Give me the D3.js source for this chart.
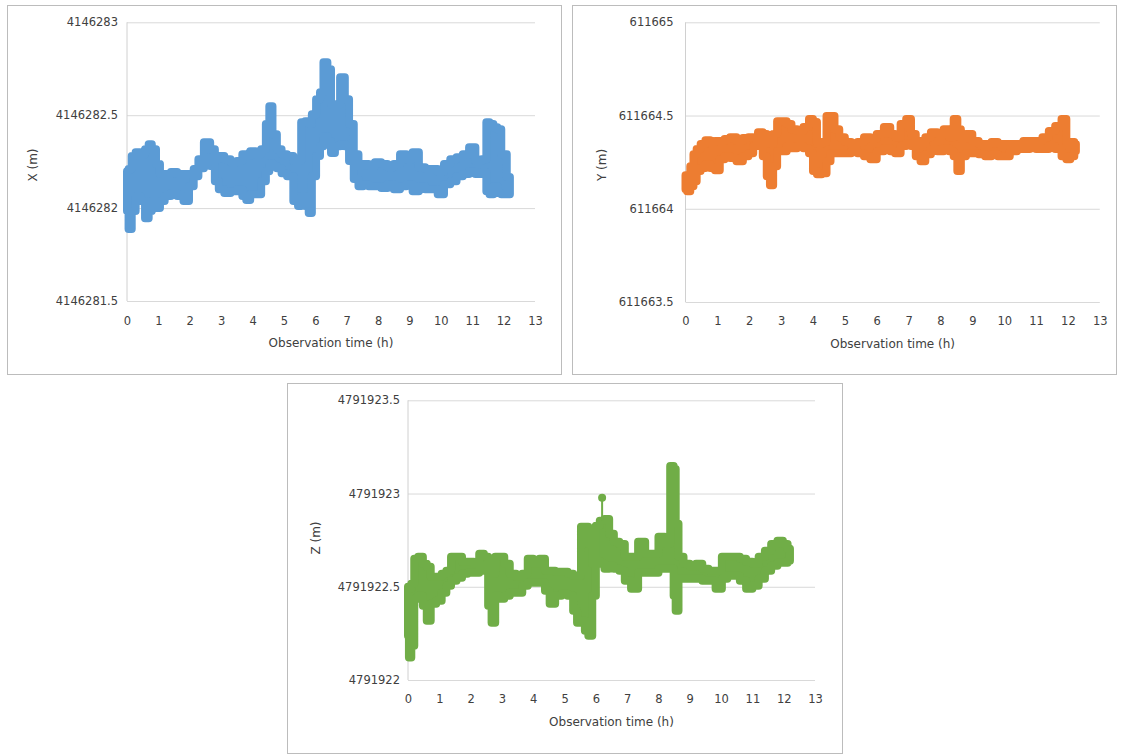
<!DOCTYPE html>
<html>
<head>
<meta charset="utf-8">
<script src="https://cdn.jsdelivr.net/npm/d3@7"></script>
<style>
  body { margin: 0; background: #ffffff; }
  svg { display: block; }
</style>
</head>
<body>
<svg id="fig" width="1124" height="755"></svg>
<script>
// Shared time axis (hours)
const hourTicks = [0, 1, 2, 3, 4, 5, 6, 7, 8, 9, 10, 11, 12, 13];

// ---- X coordinate (m): per-epoch spread, lower and upper readings ----
const xAxisTicks = [4146281.5, 4146282, 4146282.5, 4146283];
const xTimes = [0,0.1,0.2,0.35,0.5,0.65,0.73,0.85,1.0,1.1,
  1.3,1.5,1.7,1.9,2.05,2.2,2.35,2.55,2.75,2.85,
  3.0,3.2,3.4,3.6,3.75,3.85,4.0,4.2,4.35,4.5,
  4.57,4.7,4.85,5.0,5.2,5.4,5.5,5.6,5.75,5.83,
  5.95,6.1,6.2,6.32,6.45,6.55,6.7,6.88,7.0,7.15,
  7.3,7.45,7.6,7.8,8.0,8.2,8.4,8.6,8.8,9.0,
  9.2,9.4,9.6,9.8,10.0,10.2,10.4,10.6,10.8,11.0,
  11.2,11.4,11.5,11.6,11.75,11.85,12.0,12.2];
const xHigh = [4146282.199,4146282.210,4146282.280,4146282.301,4146282.290,4146282.317,4146282.344,4146282.317,4146282.237,4146282.183,
  4146282.183,4146282.194,4146282.183,4146282.183,4146282.183,4146282.210,4146282.263,4146282.355,4146282.317,4146282.263,
  4146282.280,4146282.263,4146282.247,4146282.253,4146282.290,4146282.280,4146282.306,4146282.290,4146282.317,4146282.452,
  4146282.548,4146282.398,4146282.317,4146282.290,4146282.280,4146282.253,4146282.253,4146282.462,4146282.468,4146282.452,
  4146282.505,4146282.586,4146282.624,4146282.785,4146282.747,4146282.559,4146282.559,4146282.704,4146282.586,4146282.452,
  4146282.290,4146282.226,4146282.237,4146282.226,4146282.247,4146282.237,4146282.220,4146282.237,4146282.290,4146282.263,
  4146282.301,4146282.220,4146282.210,4146282.210,4146282.194,4146282.237,4146282.263,4146282.274,4146282.290,4146282.328,
  4146282.253,4146282.263,4146282.462,4146282.452,4146282.435,4146282.425,4146282.290,4146282.167];
const xLow = [4146281.984,4146281.887,4146281.984,4146282.065,4146282.038,4146281.946,4146281.984,4146282.038,4146282.000,4146282.038,
  4146282.065,4146282.081,4146282.065,4146282.038,4146282.118,4146282.172,4146282.215,4146282.269,4146282.226,4146282.145,
  4146282.102,4146282.081,4146282.091,4146282.102,4146282.065,4146282.043,4146282.075,4146282.075,4146282.145,4146282.199,
  4146282.242,4146282.226,4146282.215,4146282.188,4146282.172,4146282.038,4146282.011,4146282.065,4146282.011,4146281.973,
  4146282.172,4146282.280,4146282.333,4146282.387,4146282.360,4146282.296,4146282.333,4146282.344,4146282.333,4146282.253,
  4146282.156,4146282.118,4146282.129,4146282.118,4146282.118,4146282.108,4146282.129,4146282.102,4146282.118,4146282.129,
  4146282.091,4146282.118,4146282.102,4146282.102,4146282.075,4146282.129,4146282.145,4146282.172,4146282.183,4146282.199,
  4146282.183,4146282.194,4146282.091,4146282.075,4146282.118,4146282.081,4146282.075,4146282.075];

// ---- Y coordinate (m) ----
const yAxisTicks = [611663.5, 611664, 611664.5, 611665];
const yTimes = [0.0,0.1,0.2,0.3,0.4,0.55,0.7,0.85,1.0,1.15,
  1.3,1.5,1.7,1.9,2.05,2.2,2.35,2.5,2.6,2.7,
  2.8,2.95,3.1,3.25,3.4,3.6,3.8,3.95,4.05,4.2,
  4.35,4.5,4.6,4.75,4.9,5.1,5.3,5.5,5.7,5.9,
  6.1,6.35,6.5,6.65,6.85,7.0,7.15,7.3,7.45,7.6,
  7.8,8.0,8.2,8.35,8.48,8.58,8.7,8.9,9.1,9.3,
  9.5,9.7,9.9,10.05,10.3,10.5,10.7,10.9,11.1,11.3,
  11.5,11.7,11.9,12.0,12.15,12.25];
const yHigh = [611664.180,611664.175,611664.228,611664.293,611664.320,611664.347,611664.368,611664.358,611664.363,611664.363,
  611664.374,611664.384,611664.363,611664.379,611664.384,611664.379,611664.411,611664.401,611664.374,611664.347,
  611664.401,611664.470,611664.470,611664.454,611664.427,611664.417,611664.438,611664.481,611664.465,611664.347,
  611664.358,611664.497,611664.497,611664.427,611664.384,611664.358,611664.347,611664.358,611664.384,611664.374,
  611664.401,611664.438,611664.401,611664.384,611664.454,611664.481,611664.401,611664.363,611664.347,611664.384,
  611664.411,611664.401,611664.427,611664.384,611664.481,611664.427,611664.374,611664.401,611664.363,611664.347,
  611664.347,611664.358,611664.347,611664.347,611664.347,611664.347,611664.363,611664.363,611664.363,611664.384,
  611664.417,611664.444,611664.481,611664.347,611664.358,611664.347];
const yLow = [611664.105,611664.094,611664.121,611664.148,611664.202,611664.218,611664.239,611664.218,611664.207,611664.266,
  611664.282,611664.272,611664.255,611664.282,611664.298,611664.336,611664.374,611664.282,611664.175,611664.126,
  611664.228,611664.309,611664.309,611664.336,611664.325,611664.336,611664.325,611664.298,611664.202,611664.185,
  611664.191,611664.255,611664.298,611664.298,611664.298,611664.298,611664.309,611664.298,611664.282,611664.266,
  611664.309,611664.325,611664.309,611664.298,611664.336,611664.352,611664.336,611664.282,611664.255,611664.293,
  611664.320,611664.309,611664.325,611664.309,611664.282,611664.202,611664.282,611664.298,611664.298,611664.293,
  611664.282,611664.293,611664.282,611664.282,611664.309,611664.320,611664.320,611664.325,611664.320,611664.320,
  611664.336,611664.320,611664.282,611664.266,611664.282,611664.309];

// ---- Z coordinate (m) ----
const zAxisTicks = [4791922, 4791922.5, 4791923, 4791923.5];
const zTimes = [0.0,0.06,0.15,0.25,0.4,0.55,0.65,0.8,1.0,1.15,
  1.3,1.45,1.65,1.8,2.0,2.2,2.35,2.5,2.62,2.72,
  2.85,3.0,3.15,3.35,3.55,3.75,3.9,4.1,4.3,4.45,
  4.6,4.8,5.0,5.2,5.35,5.45,5.6,5.7,5.82,5.95,
  6.05,6.2,6.35,6.5,6.65,6.85,7.0,7.25,7.45,7.7,
  7.9,8.1,8.3,8.45,8.52,8.58,8.7,8.9,9.1,9.3,
  9.5,9.7,9.95,10.1,10.3,10.5,10.7,10.9,11.1,11.3,
  11.5,11.7,11.9,12.05,12.2];
const zHigh = [4791922.500,4791922.489,4791922.516,4791922.650,4791922.661,4791922.623,4791922.607,4791922.554,4791922.554,4791922.570,
  4791922.586,4791922.661,4791922.661,4791922.634,4791922.634,4791922.623,4791922.677,4791922.661,4791922.586,4791922.570,
  4791922.661,4791922.661,4791922.623,4791922.570,4791922.554,4791922.570,4791922.650,4791922.623,4791922.650,4791922.586,
  4791922.586,4791922.580,4791922.580,4791922.570,4791922.559,4791922.559,4791922.822,4791922.822,4791922.730,4791922.623,
  4791922.827,4791922.854,4791922.864,4791922.784,4791922.741,4791922.730,4791922.661,4791922.661,4791922.741,4791922.677,
  4791922.677,4791922.768,4791922.730,4791923.148,4791923.132,4791922.838,4791922.661,4791922.623,4791922.607,4791922.623,
  4791922.596,4791922.586,4791922.586,4791922.661,4791922.661,4791922.661,4791922.650,4791922.634,4791922.623,4791922.661,
  4791922.693,4791922.730,4791922.747,4791922.730,4791922.704];
const zLow = [4791922.237,4791922.120,4791922.184,4791922.436,4791922.452,4791922.398,4791922.318,4791922.409,4791922.425,4791922.468,
  4791922.505,4791922.532,4791922.548,4791922.570,4791922.575,4791922.575,4791922.613,4791922.586,4791922.398,4791922.307,
  4791922.452,4791922.436,4791922.452,4791922.468,4791922.468,4791922.505,4791922.521,4791922.521,4791922.521,4791922.479,
  4791922.409,4791922.452,4791922.462,4791922.452,4791922.371,4791922.307,4791922.318,4791922.264,4791922.237,4791922.452,
  4791922.639,4791922.623,4791922.596,4791922.613,4791922.596,4791922.586,4791922.532,4791922.489,4791922.575,4791922.575,
  4791922.575,4791922.596,4791922.596,4791922.596,4791922.452,4791922.371,4791922.543,4791922.543,4791922.543,4791922.543,
  4791922.532,4791922.532,4791922.489,4791922.543,4791922.559,4791922.559,4791922.532,4791922.489,4791922.505,4791922.543,
  4791922.586,4791922.613,4791922.629,4791922.629,4791922.639];
// isolated reading above the Z band
const zOutlierTime = [6.2];
const zOutlierValue = [4791922.977];

// ---- layout of the three panels ----
const panels = [
  { frame: [7, 5, 561, 374], plot: [127, 22.3, 535, 301], title: "X (m)", titleX: 33, titleY: 165,
    xTitleY: 343, tickY: 321, gap: 9, color: "#5b9bd5",
    ticks: xAxisTicks, times: xTimes, low: xLow, high: xHigh },
  { frame: [572, 5, 1116, 374], plot: [685.5, 22.3, 1099.8, 302], title: "Y (m)", titleX: 602, titleY: 165,
    xTitleY: 344, tickY: 321, gap: 12, color: "#ed7d31",
    ticks: yAxisTicks, times: yTimes, low: yLow, high: yHigh },
  { frame: [287, 383, 842, 753], plot: [408, 400.3, 815, 680], title: "Z (m)", titleX: 316, titleY: 538,
    xTitleY: 722, tickY: 699, gap: 8, color: "#70ad47",
    ticks: zAxisTicks, times: zTimes, low: zLow, high: zHigh,
    outT: zOutlierTime, outV: zOutlierValue }
];

const FONT = "'DejaVu Sans', 'Liberation Sans', sans-serif";
const TEXT = "#404040";
const svg = d3.select("#fig");

panels.forEach(p => {
  const [fx0, fy0, fx1, fy1] = p.frame;
  const [L, T, R, B] = p.plot;
  const g = svg.append("g");

  g.append("rect")
    .attr("x", fx0 + 0.5).attr("y", fy0 + 0.5)
    .attr("width", fx1 - fx0).attr("height", fy1 - fy0)
    .attr("fill", "#ffffff").attr("stroke", "#bcbcbc").attr("stroke-width", 1);

  const x = d3.scaleLinear().domain([0, 13]).range([L, R]);
  const y = d3.scaleLinear().domain([p.ticks[0], p.ticks[p.ticks.length - 1]]).range([B, T]);

  // horizontal gridlines + value labels
  const gy = g.append("g").attr("transform", `translate(${L},0)`)
    .call(d3.axisLeft(y).tickValues(p.ticks).tickSize(-(R - L)).tickPadding(p.gap)
      .tickFormat(d => String(d)));
  gy.select(".domain").remove();
  gy.selectAll(".tick line").attr("stroke", "#d9d9d9").attr("stroke-width", 1);
  gy.selectAll(".tick text").attr("fill", TEXT).style("font-family", FONT).style("font-size", "11.5px");

  // left axis line
  g.append("line").attr("x1", L).attr("x2", L).attr("y1", T).attr("y2", B)
    .attr("stroke", "#d0d0d0").attr("stroke-width", 1);

  // hour labels
  const gx = g.append("g").attr("transform", `translate(0,${B})`)
    .call(d3.axisBottom(x).tickValues(hourTicks).tickSize(0).tickPadding(0).tickFormat(d => String(d)));
  gx.select(".domain").remove();
  gx.selectAll(".tick text")
    .attr("y", p.tickY - B).attr("dy", "0.35em")
    .attr("fill", TEXT).style("font-family", FONT).style("font-size", "11.5px");

  // axis titles
  g.append("text").attr("x", (L + R) / 2).attr("y", p.xTitleY).attr("dy", "0.35em")
    .attr("text-anchor", "middle").attr("fill", TEXT)
    .style("font-family", FONT).style("font-size", "12px")
    .text("Observation time (h)");
  g.append("text")
    .attr("transform", `translate(${p.titleX},${p.titleY}) rotate(-90)`)
    .attr("dy", "0.35em").attr("text-anchor", "middle").attr("fill", TEXT)
    .style("font-family", FONT).style("font-size", "12px")
    .text(p.title);

  // spread of readings: filled band, outlined at marker size
  const idx = d3.range(p.times.length);
  const band = d3.area()
    .curve(d3.curveStep)
    .x(i => x(p.times[i]))
    .y0(i => y(p.low[i]))
    .y1(i => y(p.high[i]));
  g.append("path").datum(idx)
    .attr("d", band)
    .attr("fill", p.color).attr("stroke", p.color)
    .attr("stroke-width", 8).attr("stroke-linejoin", "round").attr("stroke-linecap", "round");

  if (p.outT) {
    p.outT.forEach((t, k) => {
      const i = d3.bisectLeft(p.times, t);
      g.append("line")
        .attr("x1", x(t)).attr("x2", x(t))
        .attr("y1", y(p.outV[k])).attr("y2", y(p.high[i]))
        .attr("stroke", p.color).attr("stroke-width", 2);
      g.append("circle").attr("cx", x(t)).attr("cy", y(p.outV[k])).attr("r", 4)
        .attr("fill", p.color);
    });
  }
});
</script>
</body>
</html>
